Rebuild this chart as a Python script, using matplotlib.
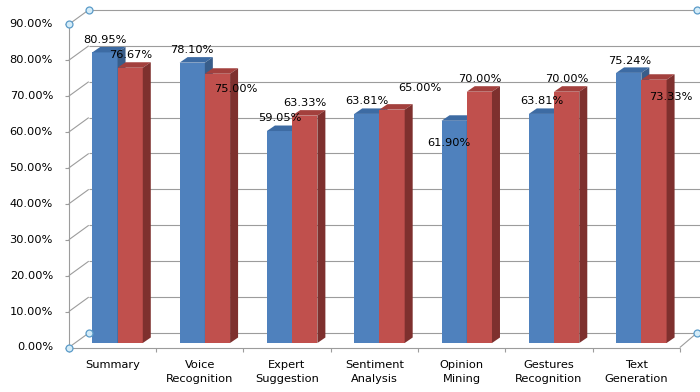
import matplotlib
matplotlib.use("Agg")
import matplotlib.pyplot as plt
import numpy as np


# Chart data
categories = [
    "Summary",
    "Voice\nRecognition",
    "Expert\nSuggestion",
    "Sentiment\nAnalysis",
    "Opinion\nMining",
    "Gestures\nRecognition",
    "Text\nGeneration",
]
blue_values = [80.95, 78.10, 59.05, 63.81, 61.90, 63.81, 75.24]
red_values = [76.67, 75.00, 63.33, 65.00, 70.00, 70.00, 73.33]
y_ticks = [0, 10, 20, 30, 40, 50, 60, 70, 80, 90]

# Excel places the data labels a bit oddly; offsets in pixels from bar top
blue_label_dx = [0, 0, 0, 0, -5.5, 0, 1]
blue_label_dy = [12.5, 12.5, 13, 13, -22, 13, 12]
red_label_dx = [0, 18, 0, 27.5, 0, 0, 16.5]
red_label_dy = [13, -15, 12.5, 21.5, 12.7, 12.7, -17]

# Colours (front, top, side)
BLUE = ("#4f81bd", "#3d6ba3", "#385d8a")
RED = ("#c0504d", "#a3403d", "#7e302e")
GRID = "#9c9c9c"

# Pixel scales of the front plane
PX_X = 1 / 87.3   # category units per pixel
PX_Y = 1 / 3.59   # percent units per pixel

WALL_DX, WALL_DY = 20 * PX_X, 14.5 * PX_Y
BAR_DX, BAR_DY = 8 * PX_X, 5.5 * PX_Y
BAR_BASE = 4.5 * PX_Y
BAR_W = 0.289
BLUE_LEFT = -0.230

fig = plt.figure(figsize=(7, 3.92), dpi=100)
ax = fig.add_axes([0, 0, 1, 1])
ax.set_xlim(-112.4 * PX_X, (700 - 112.4) * PX_X)
ax.set_ylim((347.5 - 392) * PX_Y, 347.5 * PX_Y)
ax.axis("off")

x0, x1 = -0.5, len(categories) - 0.5
line_kw = dict(color=GRID, lw=0.8, zorder=1, solid_capstyle="butt")

# Back wall gridlines and side wall diagonals
for v in y_ticks:
    if v > 0:
        ax.plot([x0 + WALL_DX, x1 + WALL_DX], [v + WALL_DY, v + WALL_DY], **line_kw)
        ax.plot([x0, x0 + WALL_DX], [v, v + WALL_DY], **line_kw)
    ax.plot([x0 - 4 * PX_X, x0], [v, v], **line_kw)
    ax.text(
        (53 - 112.4) * PX_X, v, f"{v:.2f}%",
        ha="right", va="center", fontsize=8.2, color="black"
    )

# Front axis and floor
ax.plot([x0, x0], [0, y_ticks[-1]], **line_kw)
ax.plot([x0, x1], [0, 0], **line_kw)
ax.plot([x0 + WALL_DX, x1 + WALL_DX], [WALL_DY, WALL_DY], **line_kw)
ax.plot([x0, x0 + WALL_DX], [0, WALL_DY], **line_kw)
ax.plot([x1, x1 + WALL_DX * 0.85], [0, WALL_DY], **line_kw)
for b in np.arange(x0, x1 + 0.01, 1.0):
    ax.plot([b, b], [0, -4 * PX_Y], **line_kw)

# Selection handles
hx = [x0, x0 + WALL_DX, x1 + WALL_DX * 0.85, x0, x0 + WALL_DX, x1 + WALL_DX * 0.85]
hy = [0, WALL_DY, WALL_DY, y_ticks[-1], y_ticks[-1] + WALL_DY, y_ticks[-1] + WALL_DY]
ax.plot(hx, hy, "o", ms=5, mfc="#d5ecf8", mec="#5b9bc8", mew=0.9,
        ls="none", zorder=6)


def draw_bar(left, value, colors):
    right = left + BAR_W
    bot = BAR_BASE
    top = BAR_BASE + value
    front, top_c, side = colors
    ax.fill([left, right, right, left], [bot, bot, top, top],
            color=front, lw=0, zorder=3)
    ax.fill([left, right, right + BAR_DX, left + BAR_DX],
            [top, top, top + BAR_DY, top + BAR_DY],
            color=top_c, lw=0, zorder=3)
    ax.fill([right, right + BAR_DX, right + BAR_DX, right],
            [bot, bot + BAR_DY, top + BAR_DY, top],
            color=side, lw=0, zorder=3)
    return (left + right) / 2, top


for i, name in enumerate(categories):
    bx, by = draw_bar(i + BLUE_LEFT, blue_values[i], BLUE)
    rx, ry = draw_bar(i + BLUE_LEFT + BAR_W, red_values[i], RED)

    ax.annotate(
        f"{blue_values[i]:.2f}%", (bx, by),
        xytext=(blue_label_dx[i], blue_label_dy[i]),
        textcoords="offset pixels", ha="center", va="center",
        fontsize=8.2, color="black", zorder=5
    )
    ax.annotate(
        f"{red_values[i]:.2f}%", (rx, ry),
        xytext=(red_label_dx[i], red_label_dy[i]),
        textcoords="offset pixels", ha="center", va="center",
        fontsize=8.2, color="black", zorder=5
    )

    ax.text(
        i, -13 * PX_Y, name,
        ha="center", va="top", fontsize=8.2, linespacing=1.42
    )

fig.savefig("out.png", dpi=100)
plt.close(fig)
